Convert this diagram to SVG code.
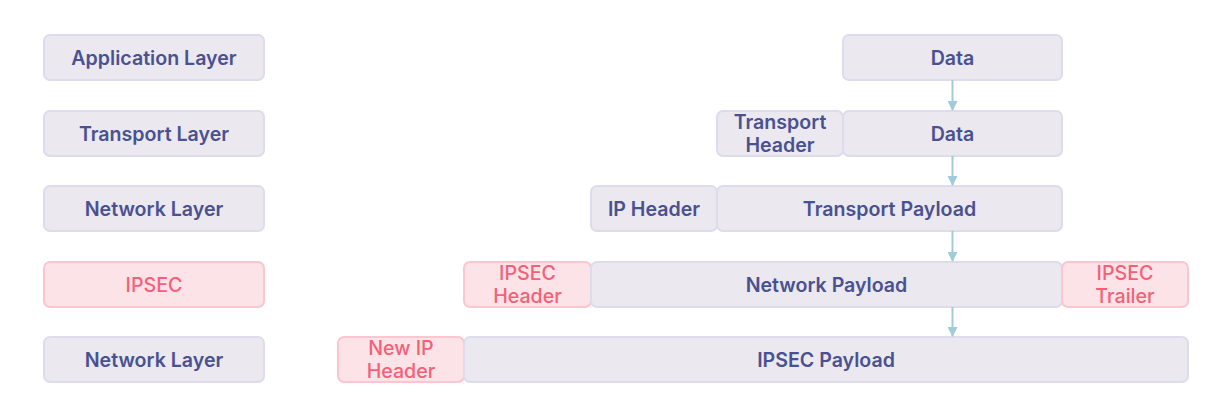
<svg xmlns="http://www.w3.org/2000/svg" width="1208" height="408" viewBox="0 0 1208 408">
<style>
.b rect{fill:#ebe8f0;stroke:#dcdced;stroke-width:2}
.p rect{fill:#fbe3e7;stroke:#fac6cf;stroke-width:2}
text{font-family:Inter,"Noto Sans",sans-serif;font-size:19.6px;text-anchor:middle;dominant-baseline:central}
.b text{fill:#4a5191;font-weight:600}
.p text{fill:#f65f78;font-weight:500}
.c line{stroke:#9fcbdb;stroke-width:2}
</style>
<defs>
<marker id="ah" viewBox="0 0 10 10" refX="9" refY="5" markerWidth="10" markerHeight="10" markerUnits="userSpaceOnUse" orient="auto"><path d="M0,0L10,5L0,10z" fill="#9fcbdb"/></marker>
</defs>
<rect width="1208" height="408" fill="#fff"/>
<g id="app-layer" class="b"><rect x="44" y="35" width="220" height="45" rx="6"/><text x="154" y="58">Application Layer</text></g>
<g id="transport-layer" class="b"><rect x="44" y="111" width="220" height="45" rx="6"/><text x="154" y="134">Transport Layer</text></g>
<g id="network-layer" class="b"><rect x="44" y="186" width="220" height="45" rx="6"/><text x="154" y="209">Network Layer</text></g>
<g id="ipsec-layer" class="p"><rect x="44" y="262" width="220" height="45" rx="6"/><text x="154" y="285">IPSEC</text></g>
<g id="network-layer-2" class="b"><rect x="44" y="337" width="220" height="45" rx="6"/><text x="154" y="360">Network Layer</text></g>

<g id="data-1" class="b"><rect x="843" y="35" width="219" height="45" rx="6"/><text x="952.5" y="58">Data</text></g>
<g id="transport-header" class="b"><rect x="717" y="111" width="126" height="45" rx="6"/><text x="780" y="122">Transport</text><text x="780" y="145">Header</text></g>
<g id="data-2" class="b"><rect x="843" y="111" width="219" height="45" rx="6"/><text x="952.5" y="134">Data</text></g>
<g id="ip-header" class="b"><rect x="591" y="186" width="126" height="45" rx="6"/><text x="654" y="209">IP Header</text></g>
<g id="transport-payload" class="b"><rect x="717" y="186" width="345" height="45" rx="6"/><text x="889.5" y="209">Transport Payload</text></g>
<g id="ipsec-header" class="p"><rect x="464" y="262" width="127" height="45" rx="6"/><text x="527.5" y="273">IPSEC</text><text x="527.5" y="296">Header</text></g>
<g id="network-payload" class="b"><rect x="591" y="262" width="471" height="45" rx="6"/><text x="826.5" y="285">Network Payload</text></g>
<g id="ipsec-trailer" class="p"><rect x="1062" y="262" width="126" height="45" rx="6"/><text x="1125" y="273">IPSEC</text><text x="1125" y="296">Trailer</text></g>
<g id="new-ip-header" class="p"><rect x="338" y="337" width="126" height="45" rx="6"/><text x="401" y="348">New IP</text><text x="401" y="371">Header</text></g>
<g id="ipsec-payload" class="b"><rect x="464" y="337" width="724" height="45" rx="6"/><text x="826" y="360">IPSEC Payload</text></g>

<g id="connectors" class="c">
<line x1="952.5" y1="80" x2="952.5" y2="110" marker-end="url(#ah)"/>
<line x1="952.5" y1="156" x2="952.5" y2="185" marker-end="url(#ah)"/>
<line x1="952.5" y1="231" x2="952.5" y2="261" marker-end="url(#ah)"/>
<line x1="952.5" y1="307" x2="952.5" y2="336" marker-end="url(#ah)"/>
</g>
</svg>
